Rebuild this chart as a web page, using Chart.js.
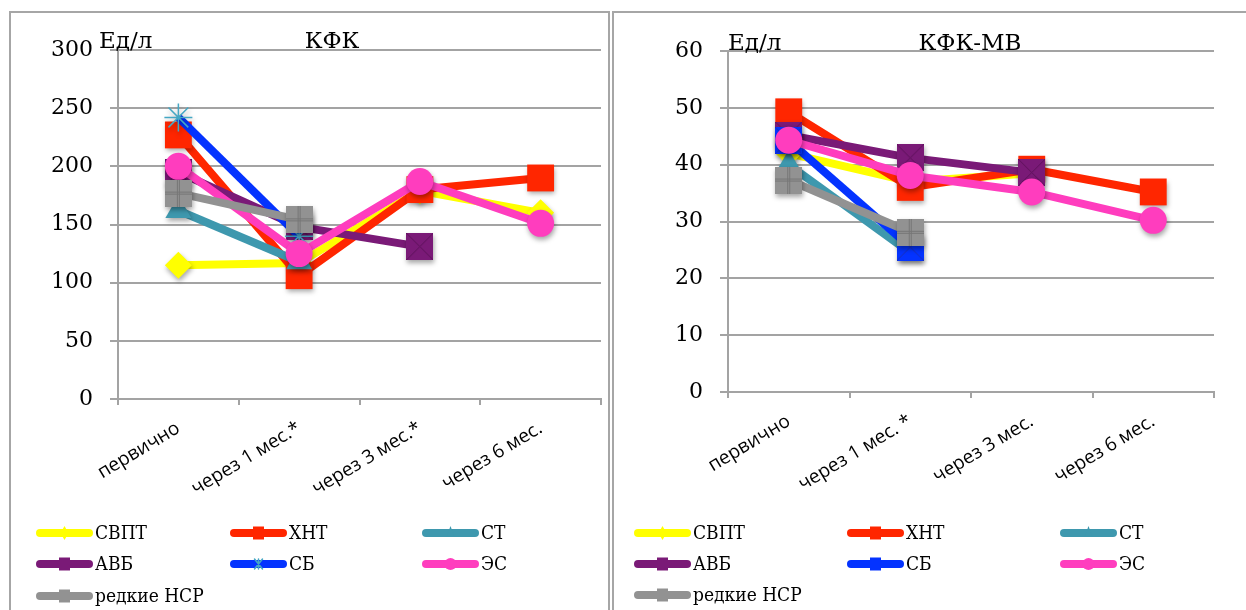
<!DOCTYPE html>
<html>
<head>
<meta charset="utf-8">
<script src="https://cdn.jsdelivr.net/npm/chart.js@4/dist/chart.umd.min.js"></script>
<style>
  html, body { margin: 0; padding: 0; background: #ffffff; }
  body { width: 1246px; height: 610px; position: relative; overflow: hidden; }
  .panel { position: absolute; border: 2px solid #a6a6a6; box-sizing: border-box; }
  #frameCK { left: 9px; top: 11px; width: 601px; height: 660px; }
  #frameMB { left: 612px; top: 11px; width: 660px; height: 660px; }
  canvas { position: absolute; top: 0; }
  #chartCK { left: 0; }
  #chartMB { left: 610px; }
</style>
</head>
<body>
<div class="panel" id="frameCK"></div>
<div class="panel" id="frameMB"></div>
<canvas id="chartCK" width="640" height="610" style="width:640px;height:610px"></canvas>
<canvas id="chartMB" width="636" height="610" style="width:636px;height:610px"></canvas>
<script>
// ---- categories (time points) ----
const categoriesCK = ['первично', 'через 1 мес.*', 'через 3 мес.*', 'через 6 мес.'];
const categoriesMB = ['первично', 'через 1 мес. *', 'через 3 мес.', 'через 6 мес.'];

// ---- series names ----
const seriesNames = ['СВПТ', 'ХНТ', 'СТ', 'АВБ', 'СБ', 'ЭС', 'редкие НСР'];

// ---- КФК, Ед/л ----
const ckSVPT = [115, 117, 179, 160];
const ckHNT  = [227, 106, 180, 190];
const ckST   = [162, 118, null, null];
const ckAVB  = [195, 148, 131, null];
const ckSB   = [242, 140, null, null];
const ckES   = [200, 125, 187, 151];
const ckNSR  = [177, 154, null, null];

// ---- КФК-МВ, Ед/л ----
const mbSVPT = [42, 37, 38.5, null];
const mbHNT  = [49.3, 36, 39.2, 35.2];
const mbST   = [40, 24.5, null, null];
const mbAVB  = [45.2, 41.2, 38.6, null];
const mbSB   = [44.2, 25.5, null, null];
const mbES   = [44.3, 38.1, 35.2, 30.2];
const mbNSR  = [37.3, 28.1, null, null];

// ---- y-axis tick labels ----
const ticksCK = [0, 50, 100, 150, 200, 250, 300];
const ticksMB = [0, 10, 20, 30, 40, 50, 60];

// ---- look ----
const colors = {
  yellow: '#ffff00', red: '#ff2600', teal: '#3e98ae', purple: '#7a1a77',
  blue: '#0433ff', pink: '#ff3dbe', gray: '#929292', starLine: '#45a7c4'
};
const SERIF = "'DejaVu Serif', serif";
const SERIF_NARROW = "'DejaVu Serif Condensed', 'DejaVu Serif', serif";
const SANS = "'Open Sans', 'Noto Sans', sans-serif";
const GRID = '#a3a3a3';

// Square marker bitmaps with the thin inner strokes
function squareMarker(fill, stroke, pattern) {
  const c = document.createElement('canvas');
  c.width = 27; c.height = 27;
  const g = c.getContext('2d');
  g.fillStyle = fill;
  g.fillRect(0, 0, 27, 27);
  g.strokeStyle = stroke;
  g.lineWidth = 1;
  g.beginPath();
  if (pattern === 'plus') {
    g.moveTo(12.5, 0); g.lineTo(12.5, 27);
    g.moveTo(14.5, 0); g.lineTo(14.5, 27);
    g.moveTo(0, 12.5); g.lineTo(27, 12.5);
    g.moveTo(0, 14.5); g.lineTo(27, 14.5);
  } else if (pattern === 'cross') {
    g.moveTo(0, 0); g.lineTo(27, 27);
    g.moveTo(27, 0); g.lineTo(0, 27);
  }
  g.stroke();
  return c;
}
const purpleSquare = squareMarker(colors.purple, '#5e115b', 'cross');
const graySquare = squareMarker(colors.gray, '#767676', 'plus');
const blueSquare = squareMarker(colors.blue, '#1a2fb8', 'cross');

// Markers get a soft drop shadow
const basePointDraw = Chart.PointElement.prototype.draw;
Chart.PointElement.prototype.draw = function (ctx, area) {
  ctx.save();
  ctx.shadowColor = 'rgba(0,0,0,0.35)';
  ctx.shadowBlur = 5;
  ctx.shadowOffsetX = 1;
  ctx.shadowOffsetY = 3;
  basePointDraw.call(this, ctx, area);
  ctx.restore();
};

function line(label, data, color, style, idx, extra) {
  return Object.assign({
    label, data,
    borderColor: color, backgroundColor: color,
    borderWidth: 8, borderJoinStyle: 'round', borderCapStyle: 'butt',
    tension: 0, spanGaps: false,
    pointStyle: style, pointRadius: 13.5, pointHoverRadius: 13.5,
    pointBackgroundColor: color, pointBorderColor: color, pointBorderWidth: 0,
    order: 10 - idx
  }, extra || {});
}

function buildSets(values, sbStyle) {
  const c = colors;
  return [
    line(seriesNames[0], values[0], c.yellow, 'rectRot', 0),
    line(seriesNames[1], values[1], c.red, 'rect', 1, { pointRadius: 19, pointHoverRadius: 19 }),
    line(seriesNames[2], values[2], c.teal, 'triangle', 2, { pointRadius: 15 }),
    line(seriesNames[3], values[3], c.purple, purpleSquare, 3),
    sbStyle === 'star'
      ? line(seriesNames[4], values[4], c.blue, 'star', 4, { pointRadius: 14, pointBorderColor: c.starLine, pointBorderWidth: 1.5 })
      : line(seriesNames[4], values[4], c.blue, blueSquare, 4),
    line(seriesNames[5], values[5], c.pink, 'circle', 5),
    line(seriesNames[6], values[6], c.gray, graySquare, 6)
  ];
}

// Key below the plot: thick stroke with a small marker, three per row
function keyPlugin(cols, rows, sbKind) {
  const kinds = ['diamond', 'square', 'triangle', 'square', sbKind, 'circle', 'square'];
  return {
    id: 'seriesKey',
    afterDraw(chart) {
      const ctx = chart.ctx;
      chart.data.datasets.forEach((ds, i) => {
        const x0 = cols[i % 3], y = rows[Math.floor(i / 3)];
        const col = ds.borderColor;
        ctx.save();
        ctx.strokeStyle = col;
        ctx.lineWidth = 8;
        ctx.lineCap = 'round';
        ctx.beginPath();
        ctx.moveTo(x0 + 4, y); ctx.lineTo(x0 + 53, y);
        ctx.stroke();
        const mx = x0 + 28.5;
        ctx.fillStyle = col;
        const k = kinds[i];
        ctx.beginPath();
        if (k === 'square') {
          ctx.rect(mx - 5.5, y - 6.5, 11, 13);
          ctx.fill();
        } else if (k === 'diamond') {
          ctx.moveTo(mx, y - 7); ctx.lineTo(mx + 4, y); ctx.lineTo(mx, y + 7); ctx.lineTo(mx - 4, y);
          ctx.closePath(); ctx.fill();
        } else if (k === 'triangle') {
          ctx.moveTo(mx, y - 7); ctx.lineTo(mx + 4, y + 4); ctx.lineTo(mx - 4, y + 4);
          ctx.closePath(); ctx.fill();
        } else if (k === 'circle') {
          ctx.arc(mx, y, 6, 0, Math.PI * 2); ctx.fill();
        } else if (k === 'star') {
          ctx.strokeStyle = colors.starLine; ctx.lineWidth = 1.5;
          ctx.moveTo(mx - 4, y - 5); ctx.lineTo(mx + 4, y + 5);
          ctx.moveTo(mx + 4, y - 5); ctx.lineTo(mx - 4, y + 5);
          ctx.moveTo(mx, y - 5); ctx.lineTo(mx, y + 5);
          ctx.stroke();
        }
        ctx.fillStyle = '#000';
        ctx.font = '19px ' + SERIF_NARROW;
        ctx.textAlign = 'left';
        ctx.textBaseline = 'middle';
        ctx.fillText(ds.label, x0 + 59, y + 1);
        ctx.restore();
      });
    }
  };
}

// Unit caption and chart caption above the plot
function captionPlugin(items) {
  return {
    id: 'captions',
    afterDraw(chart) {
      const ctx = chart.ctx;
      ctx.save();
      ctx.fillStyle = '#000';
      ctx.font = '23px ' + SERIF;
      ctx.textBaseline = 'alphabetic';
      items.forEach(t => {
        ctx.textAlign = t.align;
        ctx.fillText(t.text, t.x, t.y);
      });
      ctx.restore();
    }
  };
}

function makeChart(id, cats, sets, tickList, pad, yWidth, xHeight, plugins) {
  const maxV = tickList[tickList.length - 1];
  return new Chart(document.getElementById(id), {
    type: 'line',
    data: { labels: cats, datasets: sets },
    options: {
      responsive: false,
      animation: false,
      events: [],
      layout: { padding: pad },
      plugins: { legend: { display: false }, tooltip: { enabled: false }, title: { display: false } },
      scales: {
        x: {
          offset: true,
          grid: { display: true, offset: true, drawOnChartArea: false, drawTicks: true, tickLength: 6, color: GRID, lineWidth: 2 },
          border: { display: true, color: GRID, width: 2 },
          ticks: {
            autoSkip: false, minRotation: 31, maxRotation: 31,
            padding: 12, color: '#000', font: { family: SANS, size: 19 }
          },
          afterFit(scale) { scale.height = xHeight; }
        },
        y: {
          min: 0, max: maxV,
          grid: { color: GRID, lineWidth: 2, drawTicks: true, tickLength: 8 },
          border: { display: true, color: GRID, width: 2 },
          ticks: { color: '#000', padding: 17, font: { family: SERIF, size: 22 } },
          afterBuildTicks(scale) { scale.ticks = tickList.map(v => ({ value: v })); },
          afterFit(scale) { scale.width = yWidth; }
        }
      }
    },
    plugins
  });
}

makeChart('chartCK', categoriesCK,
  buildSets([ckSVPT, ckHNT, ckST, ckAVB, ckSB, ckES, ckNSR], 'star'),
  ticksCK, { left: 10, right: 39, top: 50, bottom: 0 }, 108, 211,
  [keyPlugin([36, 230, 422], [533, 564, 596], 'star'),
   captionPlugin([{ text: 'Ед/л', x: 99, y: 48, align: 'left' }, { text: 'КФК', x: 332, y: 48, align: 'center' }])]);

makeChart('chartMB', categoriesMB,
  buildSets([mbSVPT, mbHNT, mbST, mbAVB, mbSB, mbES, mbNSR], 'square'),
  ticksMB, { left: 10, right: 32, top: 51, bottom: 0 }, 108, 218,
  [keyPlugin([24, 237, 450], [533, 564, 595], 'square'),
   captionPlugin([{ text: 'Ед/л', x: 118, y: 50, align: 'left' }, { text: 'КФК-МВ', x: 360, y: 50, align: 'center' }])]);
</script>
</body>
</html>
